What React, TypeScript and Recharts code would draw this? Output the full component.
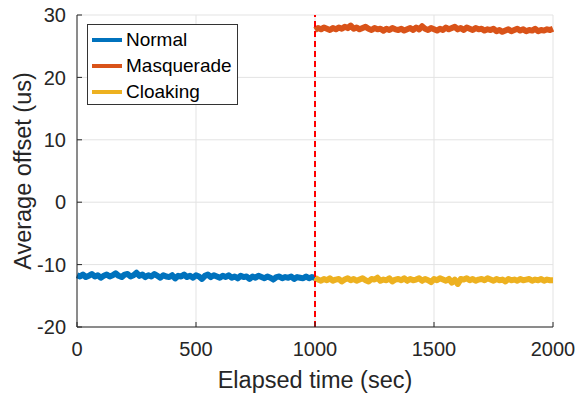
import { LineChart, Line, XAxis, YAxis, CartesianGrid, ReferenceLine } from 'recharts'

// sample spacing of the logged offsets (sec)
const STEP = 12.5

const normalStart = 0
const normalValues = [
    -11.7, -11.9, -11.6, -12.0, -11.8, -11.5, -11.9, -11.7, -12.1, -11.8,
    -11.6, -11.9, -11.7, -11.4, -11.8, -12.0, -11.6, -11.5, -11.9, -11.7,
    -11.3, -11.8, -11.6, -12.0, -11.7, -11.9, -11.5, -11.8, -12.1, -11.7,
    -11.9, -12.0, -11.7, -12.2, -11.8, -11.9, -11.6, -12.0, -11.8, -12.1,
    -11.7, -11.9, -12.3, -11.8, -11.6, -12.0, -11.7, -11.9, -12.1, -11.8,
    -12.0, -11.7, -12.1, -11.9, -12.2, -11.8, -12.0, -11.9, -12.3, -11.9,
    -12.1, -11.8, -12.0, -12.2, -11.9, -12.1, -12.4, -12.0, -11.9, -12.2,
    -12.0, -12.1, -11.9, -12.3, -12.0, -12.1, -12.2, -11.9, -12.2, -12.0, -12.1,
]

const masqueradeStart = 1000
const masqueradeValues = [
    27.6, 27.9, 27.7, 28.0, 27.8, 27.6, 27.9, 27.7, 28.0, 27.8,
    28.1, 27.9, 28.3, 27.8, 28.0, 27.7, 27.9, 28.1, 27.8, 27.6,
    27.9, 27.7, 27.8, 27.5, 27.8, 27.6, 27.9, 27.7, 27.6, 27.8,
    27.5, 27.7, 27.9, 27.6, 28.0, 27.7, 28.2, 27.8, 27.6, 27.9,
    27.7, 27.5, 27.8, 27.6, 28.0, 27.7, 27.9, 28.1, 27.7, 27.9,
    27.6, 28.0, 27.8, 27.6, 27.9, 27.7, 27.8, 27.5, 27.7, 27.6,
    27.8, 27.4, 27.6, 27.3, 27.5, 27.7, 27.4, 27.6, 27.8, 27.5,
    27.7, 27.4, 27.6, 27.5, 27.8, 27.4, 27.6, 27.5, 27.7, 27.6, 27.8,
]

const cloakingStart = 1000
const cloakingValues = [
    -12.1, -12.4, -12.6, -12.3, -12.5, -12.2, -12.6, -12.4, -12.3, -12.7,
    -12.4, -12.2, -12.5, -12.3, -12.6, -12.4, -12.2, -12.5, -12.7, -12.3,
    -12.4, -12.1, -12.6, -12.4, -12.5, -12.2, -12.7, -12.4, -12.3, -12.5,
    -12.2, -12.6, -12.3, -12.5, -12.4, -12.2, -12.6, -12.3, -12.5, -12.8,
    -12.3, -12.5, -12.2, -12.4, -12.6, -12.3, -12.9, -12.4, -13.1, -12.3,
    -12.4, -12.2, -12.5, -12.3, -12.6, -12.4, -12.3, -12.5, -12.2, -12.4,
    -12.6, -12.3, -12.5, -12.4, -12.7, -12.3, -12.5, -12.4, -12.6, -12.3,
    -12.5, -12.4, -12.3, -12.6, -12.4, -12.5, -12.3, -12.6, -12.4, -12.5, -12.5,
]

const attackTime = 1000
const xTicks = [0, 500, 1000, 1500, 2000]
const yTicks = [-20, -10, 0, 10, 20, 30]

const series = [
    { name: 'Normal', color: '#0072BD', start: normalStart, values: normalValues },
    { name: 'Masquerade', color: '#D95319', start: masqueradeStart, values: masqueradeValues },
    { name: 'Cloaking', color: '#EDB120', start: cloakingStart, values: cloakingValues },
]

const toPoints = (start: number, values: number[]) =>
    values.map((v, i) => ({ t: start + i * STEP, v }))

const font = '"Liberation Sans", Arial, Helvetica, sans-serif'
const axisColor = '#262626'

function LegendBox() {
    return (
        <div
            style={{
                position: 'absolute',
                left: 87,
                top: 24,
                border: '1px solid #333',
                background: '#fff',
                width: 151,
                height: 81,
                boxSizing: 'border-box',
                padding: '2px 0 0 0',
                fontFamily: font,
                fontSize: 19,
                color: '#000',
            }}
        >
            {series.map(s => (
                <div key={s.name} style={{ display: 'flex', alignItems: 'center', height: 26 }}>
                    <div style={{ width: 30, height: 4, background: s.color, marginLeft: 4, marginRight: 4 }} />
                    <span>{s.name}</span>
                </div>
            ))}
        </div>
    )
}

export default function App() {
    return (
        <div style={{ position: 'absolute', left: 0, top: 0, width: 577, height: 397, background: '#fff' }}>
            <LineChart width={577} height={397} margin={{ top: 15, right: 24, bottom: 0, left: 0 }}>
                <CartesianGrid stroke="#e3e3e3" vertical horizontal />
                <XAxis
                    dataKey="t"
                    type="number"
                    domain={[0, 2000]}
                    ticks={xTicks}
                    height={70}
                    stroke={axisColor}
                    tickSize={-5}
                    tickMargin={20}
                    tick={{ fill: axisColor, fontSize: 20, fontFamily: font }}
                    allowDuplicatedCategory={false}
                    label={{ value: 'Elapsed time (sec)', position: 'center', dy: 18, fill: axisColor, fontSize: 23.5, fontFamily: font }}
                />
                <YAxis
                    type="number"
                    domain={[-20, 30]}
                    ticks={yTicks}
                    width={77}
                    stroke={axisColor}
                    tickSize={-5}
                    tickMargin={16}
                    tick={{ fill: axisColor, fontSize: 20, fontFamily: font }}
                    label={{ value: 'Average offset (us)', angle: -90, position: 'center', dx: -16, fill: axisColor, fontSize: 23.5, fontFamily: font }}
                />
                {series.map(s => (
                    <Line
                        key={s.name}
                        name={s.name}
                        data={toPoints(s.start, s.values)}
                        dataKey="v"
                        type="linear"
                        stroke={s.color}
                        strokeWidth={6}
                        strokeLinejoin="round"
                        dot={false}
                        isAnimationActive={false}
                    />
                ))}
                <ReferenceLine x={attackTime} stroke="#FF0000" strokeWidth={2} strokeDasharray="6 4" />
            </LineChart>
            <LegendBox />
        </div>
    )
}
